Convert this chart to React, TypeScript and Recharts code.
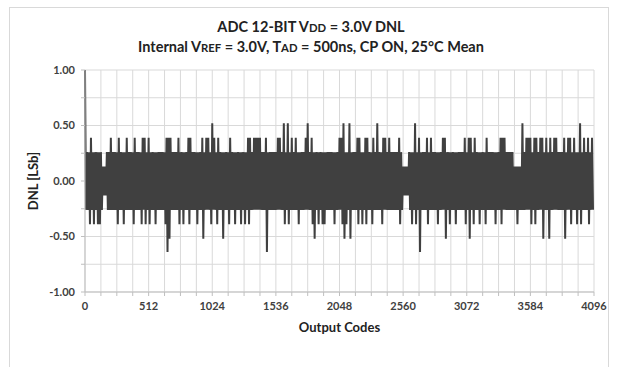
import { LineChart, Line, XAxis, YAxis, CartesianGrid, Label } from "recharts";

// DNL zigzag: one upper and one lower peak per 16 codes
const upperPeaks = [
  1.0, 0.26, 0.26, 0.39, 0.26, 0.26, 0.26, 0.26, 0.26, 0.13, 0.13, 0.26, 0.26, 0.39, 0.26, 0.26,
  0.26, 0.39, 0.26, 0.26, 0.26, 0.39, 0.26, 0.26, 0.26, 0.39, 0.26, 0.26, 0.26, 0.39, 0.39, 0.26,
  0.39, 0.26, 0.26, 0.26, 0.26, 0.26, 0.26, 0.26, 0.26, 0.39, 0.39, 0.39, 0.26, 0.26, 0.26, 0.39,
  0.26, 0.26, 0.26, 0.26, 0.39, 0.39, 0.26, 0.26, 0.26, 0.26, 0.26, 0.39, 0.26, 0.39, 0.39, 0.26,
  0.52, 0.39, 0.26, 0.39, 0.26, 0.26, 0.26, 0.26, 0.26, 0.39, 0.26, 0.26, 0.26, 0.26, 0.26, 0.26,
  0.26, 0.26, 0.39, 0.39, 0.26, 0.39, 0.39, 0.39, 0.39, 0.26, 0.26, 0.39, 0.26, 0.26, 0.26, 0.26,
  0.26, 0.39, 0.39, 0.26, 0.52, 0.26, 0.52, 0.26, 0.39, 0.26, 0.39, 0.26, 0.26, 0.26, 0.26, 0.39,
  0.52, 0.26, 0.39, 0.26, 0.26, 0.26, 0.26, 0.26, 0.26, 0.26, 0.26, 0.26, 0.26, 0.26, 0.26, 0.26,
  0.39, 0.39, 0.52, 0.26, 0.26, 0.52, 0.26, 0.26, 0.26, 0.39, 0.39, 0.26, 0.26, 0.39, 0.39, 0.26,
  0.26, 0.39, 0.26, 0.52, 0.26, 0.26, 0.39, 0.39, 0.26, 0.39, 0.26, 0.26, 0.26, 0.26, 0.39, 0.26,
  0.13, 0.13, 0.13, 0.26, 0.26, 0.26, 0.52, 0.26, 0.39, 0.26, 0.26, 0.26, 0.39, 0.26, 0.39, 0.26,
  0.26, 0.26, 0.26, 0.26, 0.39, 0.39, 0.26, 0.26, 0.26, 0.26, 0.26, 0.26, 0.26, 0.26, 0.26, 0.39,
  0.26, 0.39, 0.39, 0.26, 0.39, 0.26, 0.26, 0.26, 0.26, 0.26, 0.39, 0.26, 0.26, 0.26, 0.26, 0.26,
  0.26, 0.39, 0.39, 0.39, 0.26, 0.26, 0.26, 0.26, 0.13, 0.13, 0.13, 0.13, 0.52, 0.26, 0.39, 0.39,
  0.39, 0.26, 0.39, 0.39, 0.26, 0.39, 0.39, 0.26, 0.39, 0.26, 0.39, 0.26, 0.39, 0.39, 0.26, 0.26,
  0.26, 0.39, 0.26, 0.39, 0.39, 0.26, 0.39, 0.26, 0.26, 0.52, 0.26, 0.39, 0.26, 0.39, 0.26, 0.39,
];

const lowerPeaks = [
  -0.26, -0.26, -0.39, -0.26, -0.39, -0.26, -0.39, -0.39, -0.26, -0.13, -0.13, -0.26, -0.26, -0.26, -0.26, -0.26,
  -0.39, -0.26, -0.26, -0.39, -0.26, -0.26, -0.26, -0.26, -0.39, -0.26, -0.26, -0.26, -0.39, -0.26, -0.39, -0.26,
  -0.39, -0.26, -0.26, -0.39, -0.26, -0.26, -0.26, -0.26, -0.39, -0.64, -0.52, -0.26, -0.26, -0.26, -0.26, -0.39,
  -0.26, -0.39, -0.26, -0.26, -0.39, -0.26, -0.26, -0.26, -0.39, -0.26, -0.26, -0.52, -0.26, -0.26, -0.26, -0.39,
  -0.26, -0.26, -0.39, -0.26, -0.26, -0.52, -0.26, -0.26, -0.39, -0.26, -0.26, -0.39, -0.26, -0.26, -0.39, -0.26,
  -0.39, -0.26, -0.39, -0.26, -0.26, -0.26, -0.26, -0.26, -0.26, -0.26, -0.26, -0.64, -0.26, -0.26, -0.26, -0.26,
  -0.26, -0.26, -0.26, -0.26, -0.39, -0.26, -0.39, -0.26, -0.26, -0.26, -0.26, -0.39, -0.26, -0.26, -0.26, -0.26,
  -0.26, -0.26, -0.39, -0.52, -0.26, -0.39, -0.26, -0.39, -0.39, -0.26, -0.26, -0.26, -0.26, -0.39, -0.26, -0.26,
  -0.26, -0.39, -0.52, -0.39, -0.26, -0.52, -0.26, -0.26, -0.26, -0.39, -0.26, -0.39, -0.26, -0.39, -0.26, -0.26,
  -0.39, -0.26, -0.26, -0.26, -0.26, -0.39, -0.26, -0.26, -0.26, -0.26, -0.26, -0.26, -0.26, -0.26, -0.39, -0.26,
  -0.13, -0.13, -0.13, -0.26, -0.39, -0.26, -0.39, -0.26, -0.64, -0.26, -0.26, -0.26, -0.39, -0.26, -0.26, -0.26,
  -0.26, -0.39, -0.26, -0.26, -0.26, -0.52, -0.26, -0.39, -0.26, -0.26, -0.39, -0.26, -0.26, -0.26, -0.26, -0.39,
  -0.26, -0.52, -0.26, -0.39, -0.26, -0.26, -0.39, -0.26, -0.26, -0.39, -0.26, -0.26, -0.26, -0.26, -0.39, -0.26,
  -0.26, -0.39, -0.26, -0.26, -0.26, -0.26, -0.26, -0.26, -0.26, -0.39, -0.26, -0.26, -0.26, -0.26, -0.26, -0.26,
  -0.39, -0.26, -0.39, -0.26, -0.26, -0.26, -0.52, -0.26, -0.26, -0.52, -0.26, -0.26, -0.26, -0.26, -0.26, -0.26,
  -0.26, -0.52, -0.26, -0.26, -0.39, -0.26, -0.26, -0.39, -0.26, -0.39, -0.26, -0.26, -0.26, -0.39, -0.26, -0.26,
];

const codeStep = 16;

const xTicks = [
  0, 128, 256, 384, 512, 640, 768, 896, 1024, 1152, 1280, 1408, 1536, 1664, 1792, 1920, 2048,
  2176, 2304, 2432, 2560, 2688, 2816, 2944, 3072, 3200, 3328, 3456, 3584, 3712, 3840, 3968, 4096,
];
const yTicks = [-1, -0.75, -0.5, -0.25, 0, 0.25, 0.5, 0.75, 1];

const data = upperPeaks.flatMap((up, i) => [
  { code: i * codeStep, dnl: up },
  { code: i * codeStep + codeStep / 2, dnl: lowerPeaks[i] },
]);

const font = "Lato, 'Open Sans', sans-serif";
const tickStyle = { fontSize: 11, fontWeight: 700, fill: "#404040", fontFamily: font };

const sc = { fontSize: "0.78em" };

export default function App() {
  return (
    <div
      style={{
        position: "absolute",
        left: 0,
        top: 0,
        width: 618,
        height: 367,
        overflow: "hidden",
        background: "#fff",
        fontFamily: font,
      }}
    >
      <div
        style={{
          position: "absolute",
          left: 9,
          top: 7,
          width: 598,
          height: 400,
          border: "1px solid #d9d9d9",
        }}
      />
      <div
        style={{
          position: "absolute",
          left: 0,
          width: 622,
          top: 17,
          textAlign: "center",
          fontWeight: 700,
          fontSize: 14.5,
          lineHeight: "19px",
          color: "#222",
        }}
      >
        <div>
          ADC 12-BIT V<span style={sc}>DD</span> = 3.0V DNL
        </div>
        <div>
          Internal V<span style={sc}>REF</span> = 3.0V, T<span style={sc}>AD</span> = 500ns, CP ON, 25°C Mean
        </div>
      </div>
      <LineChart
        width={618}
        height={367}
        data={data}
        margin={{ top: 70, right: 24, bottom: 45, left: 0 }}
        style={{ position: "absolute", left: 0, top: 0 }}
      >
        <CartesianGrid stroke="#d9d9d9" />
        <XAxis
          dataKey="code"
          type="number"
          domain={[0, 4096]}
          ticks={xTicks}
          interval={0}
          height={30}
          tickSize={4}
          tickMargin={6}
          stroke="#bfbfbf"
          tick={tickStyle}
          tickFormatter={(v: number) => (v % 512 === 0 ? String(v) : "")}
        >
          <Label
            value="Output Codes"
            position="bottom"
            offset={1}
            style={{ fontSize: 13, fontWeight: 700, fill: "#222", fontFamily: font }}
          />
        </XAxis>
        <YAxis
          type="number"
          domain={[-1, 1]}
          ticks={yTicks}
          interval={0}
          width={85}
          tickSize={4}
          tickMargin={6}
          stroke="#bfbfbf"
          tick={tickStyle}
          tickFormatter={(v: number) => (Math.round(v * 100) % 50 === 0 ? v.toFixed(2) : "")}
        >
          <Label
            value="DNL [LSb]"
            angle={-90}
            position="insideLeft"
            offset={33}
            style={{ textAnchor: "middle", fontSize: 13, fontWeight: 700, fill: "#222", fontFamily: font }}
          />
        </YAxis>
        <Line
          type="linear"
          dataKey="dnl"
          stroke="#404040"
          strokeWidth={2}
          dot={false}
          isAnimationActive={false}
        />
      </LineChart>
    </div>
  );
}
